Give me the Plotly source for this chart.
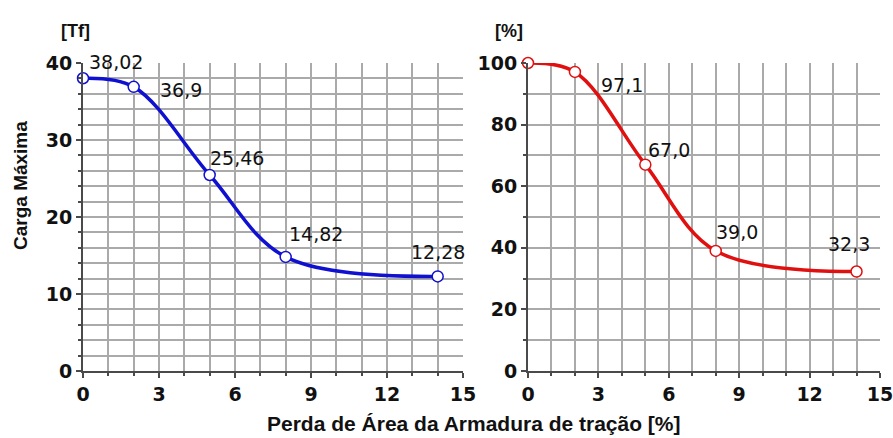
import plotly.graph_objects as go

# Loss of steel area in the tension reinforcement [%]
perda_area = [0, 2, 5, 8, 14]
# Maximum load [Tf]
carga_tf = [38.02, 36.9, 25.46, 14.82, 12.28]
# Maximum load relative to the intact beam [%]
carga_pct = [100.0, 97.1, 67.0, 39.0, 32.3]

x_ticks = [0, 3, 6, 9, 12, 15]
y_ticks_tf = [0, 10, 20, 30, 40]
y_ticks_pct = [0, 20, 40, 60, 80, 100]

# label offsets in pixels (xshift, yshift); None = no label
offsets_tf = [(33, 16), (47, -3), (27, 17), (30, 23), (0, 24)]
offsets_pct = [None, (47, -13), (24, 15), (21, 19), (-8, 28)]

FONT = "Liberation Sans, Arial, sans-serif"
NUM_FONT = "DejaVu Sans, Liberation Sans, sans-serif"
GRID = "#aaaaaa"
AXIS = "#4a4a4a"
BLUE = "#1010d0"
RED = "#e01010"

fig = go.Figure()

fig.add_trace(go.Scatter(
    x=perda_area, y=carga_tf, mode="lines+markers",
    line=dict(color=BLUE, width=3.5, shape="spline", smoothing=1.0),
    marker=dict(size=11, color="white", line=dict(color=BLUE, width=1.5)),
    xaxis="x", yaxis="y", showlegend=False, cliponaxis=False,
))
fig.add_trace(go.Scatter(
    x=perda_area, y=carga_pct, mode="lines+markers",
    line=dict(color=RED, width=3.5, shape="spline", smoothing=1.0),
    marker=dict(size=11, color="white", line=dict(color=RED, width=1.5)),
    xaxis="x2", yaxis="y2", showlegend=False, cliponaxis=False,
))


def fmt(v, decimals=None):
    s = f"{v:.{decimals}f}" if decimals is not None else f"{v:g}"
    return s.replace(".", ",")


label_font = dict(family=NUM_FONT, size=19, color="#111111")
annotations = []
for xv, yv, off in zip(perda_area, carga_tf, offsets_tf):
    if off is None:
        continue
    annotations.append(dict(
        x=xv, y=yv, xref="x", yref="y", text=fmt(yv), showarrow=False,
        xshift=off[0], yshift=off[1], font=label_font,
    ))
for xv, yv, off in zip(perda_area, carga_pct, offsets_pct):
    if off is None:
        continue
    annotations.append(dict(
        x=xv, y=yv, xref="x2", yref="y2", text=fmt(yv, 1), showarrow=False,
        xshift=off[0], yshift=off[1], font=label_font,
    ))

bold = dict(family=FONT, color="#111111", weight="bold")


def paper_text(text, cx, cy, size, angle=0):
    return dict(
        x=cx / 893, y=1 - cy / 438, xref="paper", yref="paper",
        xanchor="center", yanchor="middle", text=text, textangle=angle,
        showarrow=False, font=dict(size=size, **bold),
    )


# unit labels above each panel
annotations.append(paper_text("[Tf]", 75, 31, 18))
annotations.append(paper_text("[%]", 509, 31, 18))
# shared x-axis title
annotations.append(paper_text("Perda de Área da Armadura de tração [%]", 474, 423, 21))
# y-axis title of the left panel
annotations.append(paper_text("Carga Máxima", 21, 186, 19, angle=-90))

tick_font = dict(family=NUM_FONT, size=19, color="#111111", weight="bold")


def xaxis_cfg(domain, anchor):
    return dict(
        domain=domain, anchor=anchor, range=[0, 15], tickvals=x_ticks,
        ticks="outside", ticklen=5, tickwidth=1.5, tickcolor=AXIS,
        showgrid=True, gridcolor=GRID, gridwidth=1.5,
        minor=dict(dtick=1, showgrid=True, gridcolor=GRID, gridwidth=1.5,
                   ticks="outside", ticklen=3, tickcolor=AXIS),
        showline=True, linecolor=AXIS, linewidth=2, zeroline=False,
        tickfont=tick_font, fixedrange=True, automargin=False,
        ticklabeloverflow="allow",
    )


def yaxis_cfg(rng, vals, minor_dtick, anchor):
    return dict(
        domain=[1 - 371 / 438, 1 - 63 / 438], anchor=anchor, range=rng,
        tickvals=vals, ticks="outside", ticklen=5, tickwidth=1.5,
        tickcolor=AXIS, showgrid=True, gridcolor=GRID, gridwidth=1.5,
        minor=dict(dtick=minor_dtick, showgrid=True, gridcolor=GRID,
                   gridwidth=1.5, ticks="outside", ticklen=3, tickcolor=AXIS),
        showline=True, linecolor=AXIS, linewidth=2, zeroline=False,
        tickfont=tick_font, fixedrange=True, automargin=False,
        ticklabeloverflow="allow",
    )


fig.update_layout(
    width=893, height=438,
    margin=dict(l=0, r=0, t=0, b=0),
    paper_bgcolor="white", plot_bgcolor="white",
    xaxis=xaxis_cfg([83 / 893, 463 / 893], "y"),
    yaxis=yaxis_cfg([0, 40], y_ticks_tf, 2, "x"),
    xaxis2=xaxis_cfg([528 / 893, 880 / 893], "y2"),
    yaxis2=yaxis_cfg([0, 100], y_ticks_pct, 10, "x2"),
    annotations=annotations,
)

fig.write_html("out.html")
